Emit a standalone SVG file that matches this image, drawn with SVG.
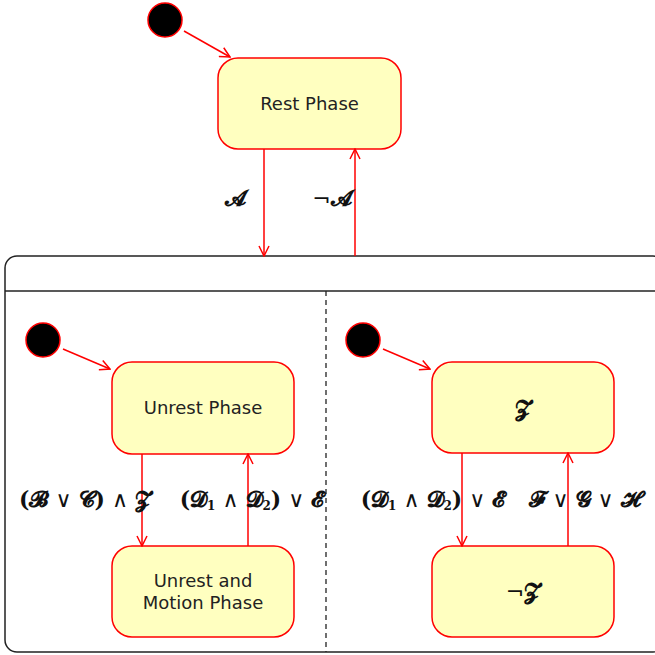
<svg xmlns="http://www.w3.org/2000/svg" width="655" height="655" viewBox="0 0 655 655">
  <style>
    .state { fill: #ffffc0; stroke: #ff0000; stroke-width: 1.5; }
    .init { fill: #000000; stroke: #ff0000; stroke-width: 1.5; }
    .name { font-family: "DejaVu Sans", Verdana, sans-serif; font-size: 18px; fill: #222222; text-anchor: middle; }
    .math { font-family: "DejaVu Serif", "DejaVu Sans", serif; font-size: 22px; font-weight: bold; fill: #111111; text-anchor: middle; }
    .op { font-family: "DejaVu Sans", sans-serif; font-weight: normal; font-size: 22px; }
    .sub { font-size: 12px; }
    .edge { fill: none; stroke: #ff0000; stroke-width: 1.5; }
    .frame { fill: #ffffff; stroke: #222222; stroke-width: 1.5; }
  </style>
  <defs>
    <marker id="open" viewBox="0 0 12 12" refX="11" refY="6" markerWidth="12" markerHeight="12" markerUnits="userSpaceOnUse" orient="auto">
      <path d="M1,1 L11,6 L1,11" fill="none" stroke="#ff0000" stroke-width="1.5"/>
    </marker>
  </defs>

  <!-- composite state (extends past the right edge) -->
  <g id="composite">
    <rect class="frame" x="5" y="256" width="660" height="396" rx="12"/>
    <line x1="5" y1="291" x2="660" y2="291" stroke="#222222" stroke-width="1.5"/>
    <line x1="326" y1="291" x2="326" y2="652" stroke="#222222" stroke-width="1.3" stroke-dasharray="5,4"/>
  </g>

  <g id="init-top"><circle class="init" cx="165" cy="20" r="17"/></g>
  <g id="rest"><rect class="state" x="218" y="58" width="183" height="91" rx="20"/><text class="name" x="309.5" y="110">Rest Phase</text></g>

  <g id="init-left"><circle class="init" cx="43" cy="340" r="17"/></g>
  <g id="unrest"><rect class="state" x="112" y="362" width="182" height="92" rx="20"/><text class="name" x="203" y="414">Unrest Phase</text></g>
  <g id="motion"><rect class="state" x="112" y="546" width="182" height="91" rx="20"/><text class="name" x="203" y="587">Unrest and</text><text class="name" x="203" y="609">Motion Phase</text></g>

  <g id="init-right"><circle class="init" cx="363" cy="340" r="17"/></g>
  <g id="z"><rect class="state" x="432" y="362" width="182" height="91" rx="20"/><text class="math" x="523" y="416">𝓩</text></g>
  <g id="notz"><rect class="state" x="432" y="546" width="182" height="91" rx="20"/><text class="math" x="523" y="599"><tspan class="op">¬</tspan>𝓩</text></g>

  <g id="connectors">
    <line class="edge" x1="184" y1="31" x2="230" y2="57" marker-end="url(#open)"/>
    <line class="edge" x1="264" y1="149" x2="264" y2="256" marker-end="url(#open)"/>
    <line class="edge" x1="355" y1="256" x2="355" y2="149" marker-end="url(#open)"/>

    <line class="edge" x1="63" y1="349" x2="110" y2="369" marker-end="url(#open)"/>
    <line class="edge" x1="142" y1="454" x2="142" y2="546" marker-end="url(#open)"/>
    <line class="edge" x1="248" y1="546" x2="248" y2="454" marker-end="url(#open)"/>

    <line class="edge" x1="383" y1="349" x2="430" y2="369" marker-end="url(#open)"/>
    <line class="edge" x1="462" y1="453" x2="462" y2="546" marker-end="url(#open)"/>
    <line class="edge" x1="568" y1="546" x2="568" y2="453" marker-end="url(#open)"/>
  </g>

  <g id="labels">
    <text class="math" x="235" y="206">𝓐</text>
    <text class="math" x="332" y="206"><tspan class="op">¬</tspan>𝓐</text>
    <text class="math" x="85" y="507">(𝓑<tspan class="op"> ∨ </tspan>𝓒)<tspan class="op"> ∧ </tspan>𝓩</text>
    <text class="math" x="252" y="507">(𝓓<tspan class="sub" dy="3">𝟏</tspan><tspan class="op" dy="-3"> ∧ </tspan>𝓓<tspan class="sub" dy="3">𝟐</tspan><tspan dy="-3">)</tspan><tspan class="op"> ∨ </tspan>𝓔</text>
    <text class="math" x="433" y="507">(𝓓<tspan class="sub" dy="3">𝟏</tspan><tspan class="op" dy="-3"> ∧ </tspan>𝓓<tspan class="sub" dy="3">𝟐</tspan><tspan dy="-3">)</tspan><tspan class="op"> ∨ </tspan>𝓔</text>
    <text class="math" x="585" y="507">𝓕<tspan class="op"> ∨ </tspan>𝓖<tspan class="op"> ∨ </tspan>𝓗</text>
  </g>
</svg>
